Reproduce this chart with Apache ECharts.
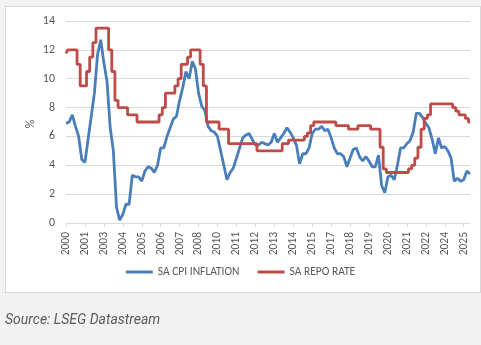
<!DOCTYPE html>
<html>
<head>
<meta charset="utf-8">
<script src="https://cdn.jsdelivr.net/npm/echarts@6/dist/echarts.min.js"></script>
<style>
  html, body { margin: 0; padding: 0; background: #f2f2f2; }
  #panel { position: absolute; left: 5px; top: 6px; width: 476px; height: 287px; background: #fff; border: 1px solid #d9d9d9; box-sizing: border-box; }
  #chart { position: absolute; left: 0; top: 0; width: 481px; height: 345px; }
  #source { position: absolute; left: 5px; top: 311px; font: italic 14px Roboto, "Liberation Sans", sans-serif; color: #59595f; }
</style>
</head>
<body>
<div id="panel"></div>
<div id="chart"></div>
<div id="source">Source: LSEG Datastream</div>
<script>
// Year labels shown under every sixth observation
const tickLabels = ['2000','2001','2003','2004','2005','2006','2007','2008','2010','2011','2012',
  '2013','2014','2015','2017','2018','2019','2020','2021','2022','2024','2025'];
const pointsPerLabel = 6;

// Headline CPI inflation, % y/y
const cpiInflation = [
  6.9, 7.0, 7.5, 6.7, 6.0, 4.4, 4.2, 5.8, 7.4, 9.0,
  11.7, 12.7, 11.1, 9.8, 6.6, 5.0, 1.1, 0.2, 0.6, 1.3,
  1.3, 3.3, 3.2, 3.2, 2.9, 3.6, 3.9, 3.8, 3.5, 4.0,
  5.2, 5.2, 6.0, 6.6, 7.2, 7.4, 8.5, 9.4, 10.5, 10.0,
  11.2, 10.7, 9.0, 8.1, 7.8, 6.7, 6.4, 6.3, 6.0, 5.0,
  4.0, 3.0, 3.5, 3.8, 4.5, 5.2, 5.9, 6.1, 6.2, 5.8,
  5.4, 5.4, 5.6, 5.5, 5.4, 5.6, 6.2, 5.6, 5.9, 6.2,
  6.6, 6.3, 5.9, 5.4, 4.1, 4.8, 4.8, 5.2, 6.2, 6.5,
  6.5, 6.7, 6.4, 6.5, 5.9, 5.2, 4.8, 4.8, 4.6, 3.9,
  4.5, 5.1, 5.2, 4.6, 4.3, 4.6, 4.3, 3.9, 3.9, 4.7,
  2.6, 2.1, 3.2, 3.3, 3.0, 4.0, 5.2, 5.2, 5.5, 5.7,
  6.3, 7.6, 7.6, 7.3, 6.9, 6.6, 5.8, 4.8, 5.9, 5.2,
  5.3, 5.0, 4.5, 2.9, 3.1, 2.9, 3.0, 3.6, 3.4
];

// SARB repo rate, %
const repoRate = [
  11.75, 12, 12, 12, 11, 9.5, 9.5, 10.5, 11.5, 12.5,
  13.5, 13.5, 13.5, 13.5, 12, 10.5, 8.5, 8, 8, 8,
  7.5, 7.5, 7.5, 7, 7, 7, 7, 7, 7, 7,
  7.5, 8, 9, 9, 9, 9.5, 10, 11, 11, 11.5,
  12, 12, 12, 11, 9.5, 7, 7, 7, 7, 6.5,
  6.5, 6.5, 5.5, 5.5, 5.5, 5.5, 5.5, 5.5, 5.5, 5.5,
  5.5, 5, 5, 5, 5, 5, 5, 5, 5, 5.5,
  5.5, 5.75, 5.75, 5.75, 5.75, 5.75, 6, 6.25, 6.75, 7,
  7, 7, 7, 7, 7, 7, 6.75, 6.75, 6.75, 6.75,
  6.5, 6.5, 6.5, 6.75, 6.75, 6.75, 6.75, 6.5, 6.5, 6.5,
  5.25, 3.75, 3.5, 3.5, 3.5, 3.5, 3.5, 3.5, 3.5, 3.75,
  4, 4.5, 5.25, 6.5, 7.25, 7.5, 8.25, 8.25, 8.25, 8.25,
  8.25, 8.25, 8.25, 8, 7.75, 7.5, 7.5, 7.25, 7
];

const seriesNames = ['SA CPI INFLATION', 'SA REPO RATE'];
const yTicks = { min: 0, max: 14, step: 2 };
const yUnit = '%';

const categories = cpiInflation.map((_, i) =>
  i % pointsPerLabel === 0 ? tickLabels[i / pointsPerLabel] : '');
const everySixth = (i) => i % pointsPerLabel === 0;

const textColor = '#595959';
const gridColor = '#d9d9d9';
const font = 'Calibri, Carlito, "Liberation Sans", sans-serif';

const chart = echarts.init(document.getElementById('chart'), null, { renderer: 'canvas' });
chart.setOption({
  backgroundColor: 'transparent',
  animation: false,
  grid: { left: 66, right: 11, top: 21, bottom: 122 },
  graphic: [{
    // unit label, rotated to read bottom-to-top beside the value axis
    type: 'text',
    x: 31,
    y: 124,
    rotation: Math.PI / 2,
    style: {
      text: yUnit,
      fill: textColor,
      font: '12px ' + font,
      align: 'center',
      verticalAlign: 'middle'
    }
  }],
  legend: {
    data: seriesNames,
    bottom: 62,
    left: 'center',
    icon: 'rect',
    itemWidth: 27,
    itemHeight: 3,
    itemGap: 18,
    textStyle: { color: textColor, fontSize: 11.5, fontFamily: font }
  },
  xAxis: {
    type: 'category',
    data: categories,
    boundaryGap: false,
    axisLine: { lineStyle: { color: gridColor, width: 1 } },
    axisTick: { interval: everySixth, length: 4, lineStyle: { color: gridColor } },
    axisLabel: {
      interval: everySixth,
      rotate: 90,
      margin: 9,
      color: textColor,
      fontSize: 11.5,
      fontFamily: font
    },
    splitLine: { show: false }
  },
  yAxis: {
    type: 'value',
    min: yTicks.min,
    max: yTicks.max,
    interval: yTicks.step,
    axisLine: { show: false },
    axisTick: { show: false },
    axisLabel: { color: textColor, fontSize: 12, fontFamily: font, margin: 11 },
    splitLine: { lineStyle: { color: gridColor, width: 1 } }
  },
  series: [
    {
      name: seriesNames[0],
      type: 'line',
      data: cpiInflation,
      showSymbol: false,
      symbol: 'none',
      lineStyle: { color: '#4a7ebb', width: 2.8 },
      itemStyle: { color: '#4a7ebb' }
    },
    {
      // policy rate moves in discrete steps
      name: seriesNames[1],
      type: 'line',
      data: repoRate,
      step: 'middle',
      showSymbol: false,
      symbol: 'none',
      lineStyle: { color: '#be4b48', width: 2.8 },
      itemStyle: { color: '#be4b48' }
    }
  ]
});
</script>
</body>
</html>
